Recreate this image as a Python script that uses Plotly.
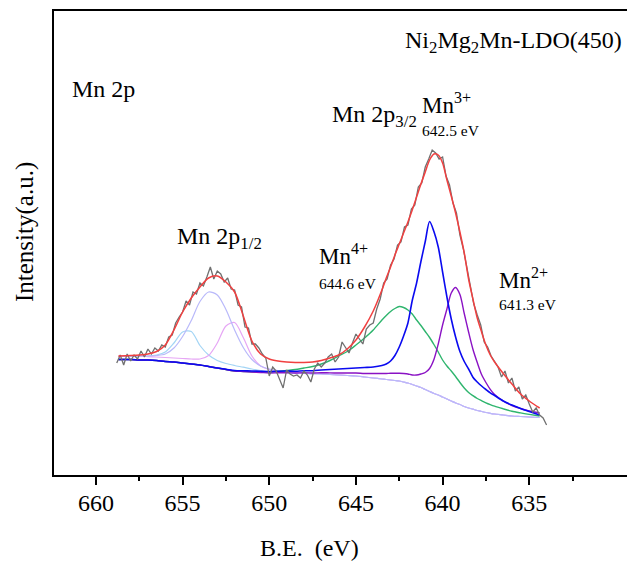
import plotly.graph_objects as go

# ---------------- data ----------------
# binding-energy grid of the fitted curves (eV)
be_grid = [658.7, 658.0, 657.5, 657.0, 656.5, 656.0, 655.5, 655.0, 654.5, 654.0,
           653.5, 653.0, 652.5, 652.0, 651.5, 651.0, 650.5, 650.0, 649.5, 649.0,
           648.5, 648.0, 647.5, 647.0, 646.5, 646.0, 645.5, 645.0, 644.5, 644.0,
           643.5, 643.25, 643.0, 642.75, 642.5, 642.25, 642.0, 641.75, 641.5, 641.25,
           641.0, 640.75, 640.5, 640.25, 640.0, 639.75, 639.5, 639.25, 639.0, 638.75,
           638.5, 638.25, 638.0, 637.75, 637.5, 637.25, 637.0, 636.5, 636.0, 635.5,
           635.0, 634.4]

# background under the 2p1/2 components
bg_sub = [118, 118, 118, 117.5, 117, 116.5, 116, 115.5, 114.5, 113.5,
          113, 112, 110.5, 109, 107.5, 106, 104.5, 103.5, 103, 102.5,
          101.5, 101.5, 101, 101, 100.5, 100, 99.5, 99, 98, 97,
          96, 95.5, 95, 94.5, 94, 93, 92, 90.5, 89, 87.5,
          85.5, 83.5, 81.5, 80, 78, 76, 74, 72, 70.5, 68.5,
          67, 65.8, 64.5, 63.5, 62.5, 61.7, 61, 60, 59, 58.5,
          58, 57.5]

# background under the 2p3/2 components
bg_main = [115.5, 115.5, 115, 115, 114.5, 113.5, 113, 112, 111, 110,
           108.5, 107, 105.5, 104, 103.5, 103, 102.5, 102, 102, 102,
           101.5, 101.5, 101, 101, 100.5, 100, 99.5, 99, 98, 97,
           96, 95.5, 95, 94.5, 94, 93, 92, 90.5, 89, 87.5,
           85.5, 83.5, 81.5, 80, 78, 76, 74, 72, 70.5, 68.5,
           67, 65.8, 64.5, 63.5, 62.5, 61.7, 61, 60, 59, 58.5,
           58, 57.5]

# component heights above their background
p12_a = [0.5, 1, 1, 1.5, 3, 6.5, 16, 27.5, 29, 16,
         7, 2.5, 1, 0.5, 0.3, 0, 0, 0, 0, 0,
         0, 0, 0, 0, 0, 0, 0, 0, 0, 0,
         0, 0, 0, 0, 0, 0, 0, 0, 0, 0,
         0, 0, 0, 0, 0, 0, 0, 0, 0, 0,
         0, 0, 0, 0, 0, 0, 0, 0, 0, 0,
         0, 0]
p12_b = [0.5, 0.7, 1, 1.5, 2.5, 4.5, 11, 23, 40, 60,
         70, 68, 55, 36, 20, 9.5, 4.5, 2.5, 1.5, 1,
         0.7, 0.5, 0.3, 0.2, 0, 0, 0, 0, 0, 0,
         0, 0, 0, 0, 0, 0, 0, 0, 0, 0,
         0, 0, 0, 0, 0, 0, 0, 0, 0, 0,
         0, 0, 0, 0, 0, 0, 0, 0, 0, 0,
         0, 0]
p12_c = [0.7, 0.8, 0.8, 0.9, 1, 1, 1, 1, 1.5, 2.5,
         6.5, 20, 38.5, 43.5, 30, 13, 4.5, 2, 1.2, 1,
         0.7, 0.5, 0.4, 0.3, 0.2, 0.1, 0, 0, 0, 0,
         0, 0, 0, 0, 0, 0, 0, 0, 0, 0,
         0, 0, 0, 0, 0, 0, 0, 0, 0, 0,
         0, 0, 0, 0, 0, 0, 0, 0, 0, 0,
         0, 0]
mn4 = [0, 0, 0, 0, 0, 0, 0, 0, 0, 0,
       0, 0, 0, 0, 0, 0, 0.5, 1, 1.5, 2.5,
       4, 5.5, 7.5, 10, 14, 19, 24, 31, 39, 48,
       59, 64, 68.5, 72, 74.5, 74.5, 73, 70.5, 66, 62,
       58, 54, 49, 43, 37, 33, 30, 26.5, 22, 18.5,
       15.5, 13.5, 12, 10.8, 9.7, 8.7, 7.8, 6.2, 4.8, 3.6,
       2.6, 1.5]
mn3 = [0, 0, 0, 0, 0, 0, 0, 0, 0, 0,
       0, 0, 0.3, 0.5, 0.7, 1, 1.2, 1.5, 1.8, 2,
       2.3, 2.8, 3.3, 4, 5, 6, 7, 8, 9.5, 11,
       13.5, 15.5, 19, 25, 34, 46, 60, 84, 103, 126,
       148, 170, 162, 148, 125, 102, 82, 66, 53, 45,
       39, 32, 28.5, 25.5, 23, 20.5, 18.5, 14, 11, 8,
       5.5, 2.5]
mn2 = [0, 0, 0, 0, 0, 0, 0, 0, 0, 0,
       0, 0, 0, 0, 0, 0, 0, 0, 0.2, 0.3,
       0.5, 0.7, 1, 1.3, 1.6, 2, 2.5, 3, 3.5, 4.5,
       5.5, 6, 6.8, 7.3, 7.8, 8.5, 9, 9.5, 11, 13.5,
       17, 23, 34, 51, 72, 90, 108, 115.5, 110, 93,
       76, 60, 48, 37, 30, 24, 19.5, 14, 10.5, 8,
       6, 4.5]

# fitted envelope
envelope = [119, 119.5, 120, 121, 123.5, 130, 145, 163, 177, 188,
            197, 199, 193, 183, 159, 134, 121, 116, 114, 113,
            112.5, 112.5, 113, 114.5, 117, 120, 126, 135, 148, 164,
            185, 197, 208, 220, 231, 242, 253, 265, 278, 291,
            303, 315, 321, 320, 312, 295, 279, 262, 243, 222,
            196, 176, 157, 143, 130, 120, 113, 101.5, 91, 81,
            74, 67]

# measured spectrum
raw_be = [658.8, 658.6, 658.4, 658.2, 658.0, 657.8, 657.6, 657.4, 657.2, 657.0,
          656.8, 656.6, 656.4, 656.2, 656.0, 655.8, 655.6, 655.4, 655.2, 655.0,
          654.8, 654.6, 654.4, 654.2, 654.0, 653.8, 653.6, 653.4, 653.2, 653.0,
          652.8, 652.6, 652.4, 652.2, 652.0, 651.8, 651.6, 651.4, 651.2, 651.0,
          650.8, 650.6, 650.4, 650.2, 650.0, 649.8, 649.6, 649.4, 649.2, 649.0,
          648.8, 648.6, 648.4, 648.2, 648.0, 647.8, 647.6, 647.4, 647.2, 647.0,
          646.8, 646.6, 646.4, 646.2, 646.0, 645.8, 645.6, 645.4, 645.2, 645.0,
          644.8, 644.6, 644.4, 644.2, 644.0, 643.8, 643.6, 643.4, 643.2, 643.0,
          642.8, 642.6, 642.4, 642.2, 642.0, 641.8, 641.6, 641.4, 641.2, 641.0,
          640.8, 640.6, 640.4, 640.2, 640.0, 639.8, 639.6, 639.4, 639.2, 639.0,
          638.8, 638.6, 638.4, 638.2, 638.0, 637.8, 637.6, 637.4, 637.2, 637.0,
          636.8, 636.6, 636.4, 636.2, 636.0, 635.8, 635.6, 635.4, 635.2, 635.0,
          634.8, 634.6, 634.4, 634.2, 634.0]
raw_counts = [112, 120, 110, 121, 114, 120, 116, 124, 118, 126,
              121, 127, 124, 130, 128, 138, 140, 152, 158, 163,
              174, 170, 183, 181, 192, 189, 198, 208, 196, 204,
              201, 193, 197, 186, 185, 170, 168, 148, 147, 131,
              131, 127, 121, 117, 99, 108, 104, 95, 87, 105,
              101, 99, 100, 97, 104, 100, 93, 106, 112, 108,
              112, 118, 121, 113, 118, 133, 128, 122, 132, 141,
              136, 131, 146, 150, 152, 166, 176, 192, 196, 210,
              216, 230, 233, 248, 250, 266, 270, 288, 292, 308,
              316, 325, 322, 316, 318, 299, 290, 272, 262, 240,
              226, 208, 190, 171, 160, 150, 133, 128, 119, 113,
              108, 98, 104, 92, 97, 84, 88, 76, 80, 71,
              63, 67, 60, 57, 50]

x_ticks = [660, 655, 650, 645, 640, 635]

# ---------------- figure ----------------
def add(a, b):
    return [u + v for u, v in zip(a, b)]

fig = go.Figure()

comps = [
    (add(bg_sub, p12_a), "#a3d5f5", 1.2),
    (add(bg_sub, p12_c), "#e6a6f5", 1.2),
    (add(bg_sub, p12_b), "#b9b9fa", 1.2),
    (add(bg_main, mn4), "#2fb56e", 1.4),
    (add(bg_main, mn2), "#8a12c4", 1.4),
    (add(bg_main, mn3), "#0a0af0", 1.6),
]
for ys, col, w in comps:
    fig.add_trace(go.Scatter(x=be_grid, y=ys, mode="lines",
                             line=dict(color=col, width=w, shape="spline", smoothing=0.8),
                             hoverinfo="skip"))

fig.add_trace(go.Scatter(x=raw_be, y=raw_counts, mode="lines",
                         line=dict(color="#707070", width=1.3), hoverinfo="skip"))
fig.add_trace(go.Scatter(x=be_grid, y=envelope, mode="lines",
                         line=dict(color="#f04040", width=1.5, shape="spline", smoothing=0.8),
                         hoverinfo="skip"))

L, R, T, B = 54, 627, 11, 475
def px(x):
    return (x - L) / (R - L)
def py(y):
    return (B - y) / (B - T)

FONT = "Liberation Serif, Times New Roman, serif"
ann = []
def label(text, x, y, size, xanchor="left", angle=0):
    ann.append(dict(text=text, x=px(x), y=py(y), xref="paper", yref="paper",
                    xanchor=xanchor, yanchor="middle", showarrow=False,
                    textangle=angle, font=dict(family=FONT, size=size, color="black")))

label("Ni<sub>2</sub>Mg<sub>2</sub>Mn-LDO(450)", 403, 42, 24)
label("Mn 2p", 70, 89, 24)
label("Mn 2p<sub>1/2</sub>", 175, 238, 24)
label("Mn 2p<sub>3/2</sub>", 330, 116, 24)
label("Mn<sup>3+</sup>", 420, 103, 23)
label("642.5 eV", 420, 130, 15.5)
label("Mn<sup>4+</sup>", 317, 254, 23)
label("644.6 eV", 317, 283, 15.5)
label("Mn<sup>2+</sup>", 497, 278, 23)
label("641.3 eV", 497, 304, 15.5)
label("B.E.  (eV)", 309, 548, 24, xanchor="center")
label("Intensity(a.u.)", 25, 232, 25, xanchor="center", angle=-90)

fig.update_layout(
    width=627, height=562,
    margin=dict(l=L, r=627 - R, t=T, b=562 - B),
    paper_bgcolor="white", plot_bgcolor="white",
    showlegend=False,
    font=dict(family=FONT, size=24, color="black"),
    annotations=ann,
)
fig.update_xaxes(
    range=[662.42, 629.36],
    tickmode="array", tickvals=x_ticks, ticktext=[str(t) for t in x_ticks],
    ticks="outside", ticklen=8, tickwidth=1.5, tickcolor="black",
    ticklabelstandoff=-3,
    minor=dict(ticks="outside", ticklen=4, tickwidth=1.5, tickcolor="black",
               tickmode="array", tickvals=[662.5, 657.5, 652.5, 647.5, 642.5, 637.5, 632.5]),
    showline=True, linewidth=1.6, linecolor="black", mirror=True,
    showgrid=False, zeroline=False,
    tickfont=dict(family=FONT, size=24, color="black"),
)
fig.update_yaxes(
    range=[0, 464], showticklabels=False, ticks="",
    showline=True, linewidth=1.6, linecolor="black", mirror=False,
    showgrid=False, zeroline=False,
)

fig.write_html("out.html")
